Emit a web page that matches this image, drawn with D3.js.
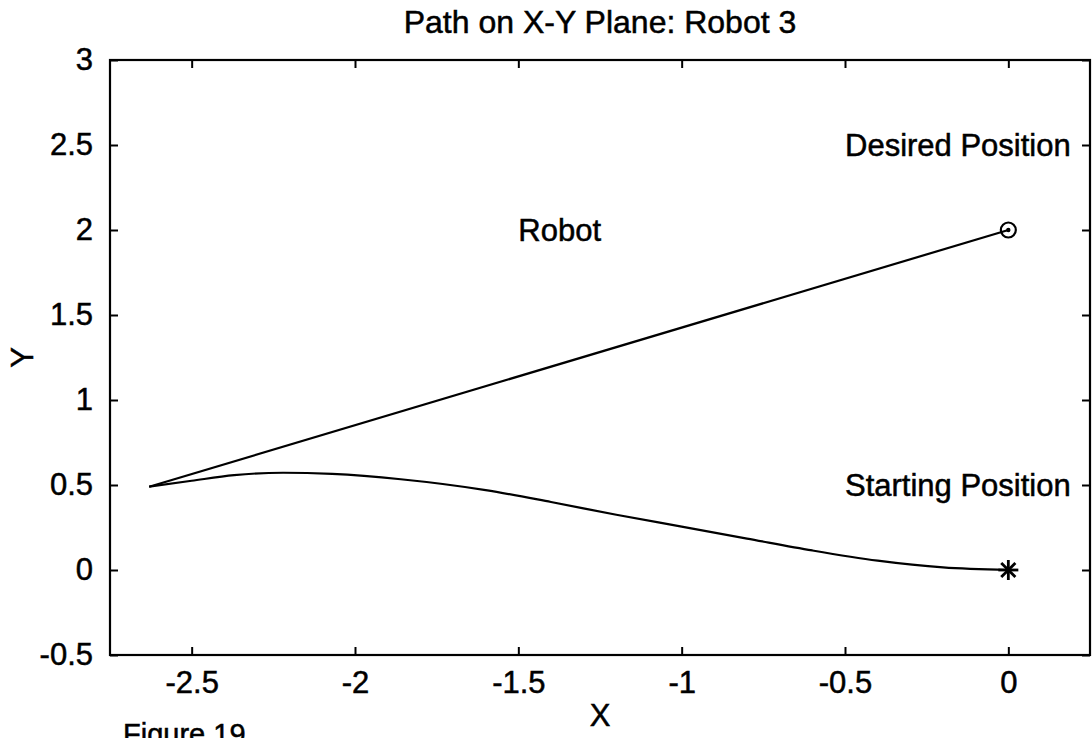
<!DOCTYPE html>
<html>
<head>
<meta charset="utf-8">
<script src="https://cdn.jsdelivr.net/npm/d3@7"></script>
<style>
  body { margin: 0; background: #fff; }
  svg text { font-family: "Liberation Sans", Arial, Helvetica, sans-serif; fill: #000; stroke: #000; stroke-width: 0.5px; }
</style>
</head>
<body>
<div id="viz-container"></div>
<script>
// robot path
const pathX = [-2.63, -2.5, -2.37, -2.22, -2.07, -1.86, -1.6, -1.4, -1.2, -1.0, -0.8, -0.6, -0.4, -0.2, 0];
const pathY = [0.49, 0.525, 0.558, 0.572, 0.565, 0.534, 0.47, 0.4, 0.325, 0.255, 0.185, 0.115, 0.055, 0.015, 0];
// straight line from the turning point to the goal
const lineX = [-2.63, 0];
const lineY = [0.49, 2];
const goal = [0, 2];
const start = [0, 0];

const xTicks = [-2.5, -2, -1.5, -1, -0.5, 0];
const yTicks = [-0.5, 0, 0.5, 1, 1.5, 2, 2.5, 3];

const notes = [
  {x: -1.5, y: 2, text: 'Robot'},
  {x: -0.5, y: 2.5, text: 'Desired Position'},
  {x: -0.5, y: 0.5, text: 'Starting Position'}
];

const W = 1092, H = 738;
const margin = {top: 60, right: 2, bottom: 83, left: 110};
const width = W - margin.left - margin.right;
const height = H - margin.top - margin.bottom;

const svg = d3.select('#viz-container')
  .append('svg')
  .attr('width', W)
  .attr('height', H);

const g = svg.append('g')
  .attr('transform', `translate(${margin.left},${margin.top})`);

const x = d3.scaleLinear().domain([-2.75, 0.25]).range([0, width]);
const y = d3.scaleLinear().domain([-0.5, 3]).range([height, 0]);

const fmt = d => String(d);
const tickLen = 8;

// inward ticks on all four sides, like the original plot
g.append('g')
  .attr('transform', `translate(0,${height})`)
  .call(d3.axisBottom(x).tickValues(xTicks).tickSize(-tickLen).tickFormat(fmt))
  .call(a => a.select('.domain').remove());
g.append('g')
  .call(d3.axisTop(x).tickValues(xTicks).tickSize(-tickLen).tickFormat(''))
  .call(a => a.select('.domain').remove());
g.append('g')
  .call(d3.axisLeft(y).tickValues(yTicks).tickSize(-tickLen).tickPadding(tickLen + 9).tickFormat(fmt))
  .call(a => a.select('.domain').remove());
g.append('g')
  .attr('transform', `translate(${width},0)`)
  .call(d3.axisRight(y).tickValues(yTicks).tickSize(-tickLen).tickFormat(''))
  .call(a => a.select('.domain').remove());

g.selectAll('.tick line').attr('stroke', '#000').attr('stroke-width', 2);
g.selectAll('.tick text').style('font-size', '31px');
g.selectAll('.tick text').filter(function() { return this.getAttribute('dy') === '0.71em'; })
  .attr('dy', '0').attr('y', 38);

g.append('rect')
  .attr('width', width)
  .attr('height', height)
  .attr('fill', 'none')
  .attr('stroke', '#000')
  .attr('stroke-width', 2.2);

const line = d3.line().x(d => x(d[0])).y(d => y(d[1]));

g.append('path')
  .datum(lineX.map((v, i) => [v, lineY[i]]))
  .attr('d', line)
  .attr('fill', 'none')
  .attr('stroke', '#000')
  .attr('stroke-width', 2.2);

g.append('path')
  .datum(pathX.map((v, i) => [v, pathY[i]]))
  .attr('d', line.curve(d3.curveMonotoneX))
  .attr('fill', 'none')
  .attr('stroke', '#000')
  .attr('stroke-width', 2.2);

// goal marker: circle with a dot
g.append('circle')
  .attr('cx', x(goal[0])).attr('cy', y(goal[1]))
  .attr('r', 7.5)
  .attr('fill', 'none').attr('stroke', '#000').attr('stroke-width', 2.2);
g.append('circle')
  .attr('cx', x(goal[0])).attr('cy', y(goal[1]))
  .attr('r', 2.2)
  .attr('fill', '#000');

// start marker: asterisk
const star = g.append('g')
  .attr('transform', `translate(${x(start[0])},${y(start[1])})`);
[0, 45, 90, 135].forEach(a => {
  star.append('line')
    .attr('x1', -10).attr('x2', 10)
    .attr('transform', `rotate(${a})`)
    .attr('stroke', '#000').attr('stroke-width', 2.8);
});

g.selectAll('.note')
  .data(notes)
  .join('text')
  .attr('class', 'note')
  .attr('x', d => x(d.x))
  .attr('y', d => y(d.y))
  .attr('dy', '0.35em')
  .style('font-size', '31px')
  .text(d => d.text);

svg.append('text')
  .attr('x', margin.left + width / 2)
  .attr('y', 33)
  .style('text-anchor', 'middle')
  .style('font-size', '32px')
  .text('Path on X-Y Plane: Robot 3');

svg.append('text')
  .attr('x', margin.left + width / 2)
  .attr('y', 726)
  .style('text-anchor', 'middle')
  .style('font-size', '31px')
  .text('X');

svg.append('text')
  .attr('transform', `translate(33,${margin.top + height / 2})rotate(-90)`)
  .style('text-anchor', 'middle')
  .style('font-size', '31px')
  .text('Y');

svg.append('text')
  .attr('x', 123)
  .attr('y', 744)
  .style('font-size', '29px')
  .text('Figure 19');
</script>
</body>
</html>
